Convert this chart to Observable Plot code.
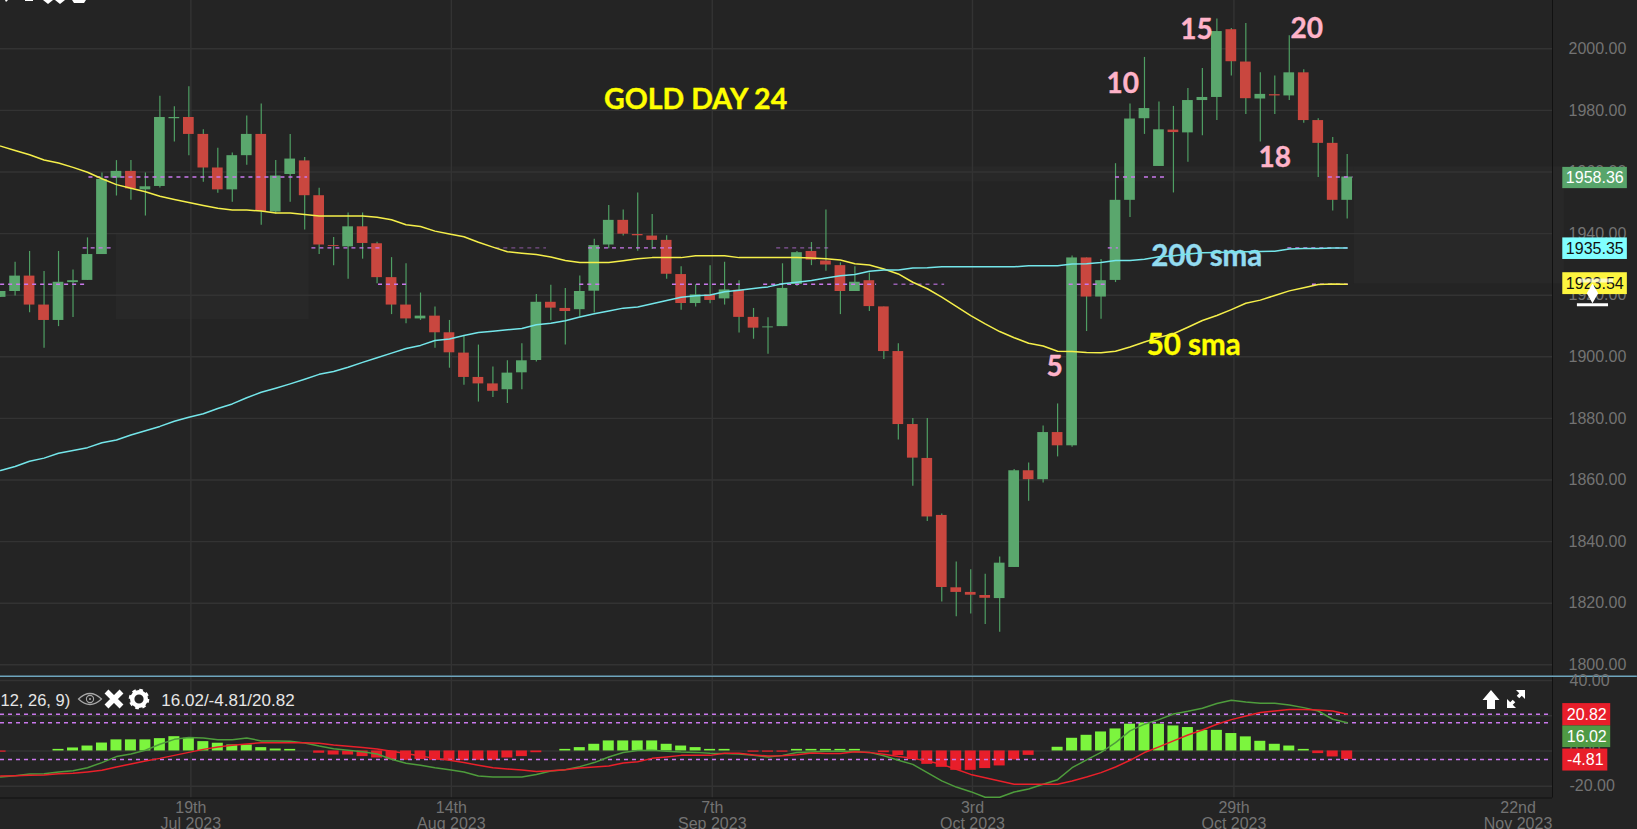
<!DOCTYPE html>
<html>
<head>
<meta charset="utf-8">
<script src="https://cdn.jsdelivr.net/npm/d3@7"></script>
<script src="https://cdn.jsdelivr.net/npm/@observablehq/plot@0.6"></script>
<style>
html,body{margin:0;padding:0;background:#242424;overflow:hidden}
svg{display:block}
</style>
</head>
<body>
<div id="chart"></div>
<script>
// Daily candles, bar numbers start at -1 (the partly hidden first bar)
const opens = [1919.3,
1921.2,1926.2,1916.8,1911.8,1924.1,1924.8,1933.2,1958.0,1960.2,1954.2,
1955.3,1977.3,1977.7,1972.2,1961.3,1954.2,1965.3,1972.2,1947.0,1959.2,
1963.6,1952.3,1936.1,1935.7,1942.2,1936.7,1925.7,1916.8,1912.3,1913.2,
1907.8,1901.2,1893.3,1891.2,1889.3,1894.8,1898.8,1917.7,1915.7,1915.3,
1921.3,1936.3,1944.3,1939.7,1939.2,1937.8,1926.7,1917.3,1920.1,1918.8,
1921.6,1912.8,1909.4,1909.8,1923.5,1934.2,1931.1,1929.6,1921.2,1924.7,
1916.2,1901.7,1878.0,1867.0,1848.5,1825.0,1823.5,1822.5,1821.5,1831.6,
1863.0,1860.1,1875.4,1871.1,1932.1,1919.4,1924.8,1950.8,1977.3,1961.8,
1973.6,1972.7,1983.2,1984.2,2006.2,1995.7,1983.7,1985.1,1984.7,1992.2,
1976.7,1969.3,1950.8];
const highs = [1921.2,
1930.7,1934.2,1927.7,1934.2,1928.2,1938.6,1959.7,1963.7,1963.7,1959.7,
1984.6,1981.2,1987.7,1973.7,1967.7,1966.2,1978.2,1982.1,1963.7,1972.2,
1964.7,1954.7,1938.7,1946.7,1946.7,1937.2,1932.2,1930.2,1920.7,1916.2,
1911.8,1906.9,1903.8,1896.7,1898.7,1904.2,1920.2,1923.2,1922.2,1926.2,
1938.2,1949.1,1947.7,1953.2,1946.2,1939.3,1929.2,1923.4,1929.6,1930.7,
1924.7,1915.7,1912.7,1930.2,1934.2,1937.1,1947.7,1930.5,1929.2,1927.2,
1916.2,1904.2,1880.0,1880.0,1849.0,1833.4,1830.9,1829.4,1835.0,1863.4,
1865.5,1877.5,1884.7,1932.7,1932.1,1931.6,1962.7,1982.1,1997.2,1982.7,
1981.3,1987.1,1993.6,2009.7,2006.6,2008.2,1992.2,1991.2,2004.2,1993.2,
1977.3,1971.2,1965.7];
const lows = [1919.3,
1919.7,1914.3,1902.8,1909.8,1912.8,1924.8,1933.2,1952.2,1950.8,1945.7,
1954.8,1969.7,1965.3,1956.7,1953.1,1950.2,1962.2,1942.7,1946.3,1950.2,
1941.2,1933.2,1929.6,1925.2,1931.7,1923.7,1913.7,1910.7,1911.8,1902.8,
1896.3,1890.8,1885.3,1886.8,1884.8,1889.3,1898.3,1911.7,1903.8,1912.9,
1914.2,1935.1,1939.2,1934.3,1934.8,1925.2,1915.1,1916.2,1917.2,1916.8,
1907.7,1905.7,1900.8,1909.8,1922.8,1929.6,1927.8,1913.7,1921.2,1914.7,
1899.1,1873.0,1858.0,1846.5,1820.4,1815.6,1816.5,1813.1,1810.6,1831.6,
1853.1,1859.0,1867.5,1870.6,1908.2,1912.2,1924.1,1945.2,1972.2,1961.8,
1953.2,1963.2,1971.8,1976.7,1991.2,1978.7,1969.7,1978.7,1983.2,1975.8,
1958.2,1947.3,1944.7];
const closes = [1921.2,
1926.2,1916.8,1911.8,1924.2,1924.7,1933.2,1957.6,1960.2,1954.5,1955.2,
1977.7,1977.7,1972.2,1961.3,1954.2,1965.3,1972.2,1947.2,1958.7,1964.2,
1952.3,1936.3,1935.8,1942.2,1936.8,1925.7,1916.8,1912.3,1913.2,1907.8,
1901.3,1893.3,1891.2,1888.8,1894.7,1898.7,1917.7,1915.8,1914.7,1921.2,
1936.1,1944.3,1939.8,1939.3,1937.8,1926.8,1917.3,1920.1,1918.3,1921.7,
1912.8,1909.3,1909.7,1922.2,1933.8,1931.4,1929.8,1921.2,1924.2,1916.3,
1901.7,1878.0,1867.1,1848.0,1825.1,1823.5,1822.6,1821.6,1833.0,1863.0,
1860.1,1875.4,1871.1,1932.1,1919.4,1924.7,1950.8,1977.2,1980.6,1973.7,
1972.8,1983.2,1984.2,2005.6,1995.8,1983.8,1985.2,1984.7,1992.2,1976.7,
1969.3,1950.8,1958.36];
const sma50 = [1968.4,
1967.0,1965.6,1963.9,1962.9,1961.5,1959.9,1957.8,1955.9,1954.7,1953.6,
1952.1,1951.1,1950.1,1949.1,1948.2,1947.7,1947.7,1947.3,1946.7,1946.7,
1946.2,1945.7,1945.7,1945.7,1945.7,1945.3,1944.5,1942.9,1942.3,1940.8,
1939.9,1939.0,1937.2,1935.6,1934.1,1933.6,1933.2,1932.4,1931.3,1930.6,
1930.6,1930.6,1931.2,1931.8,1932.2,1932.2,1932.2,1932.8,1932.8,1932.8,
1932.2,1932.2,1932.2,1932.2,1932.2,1932.1,1931.8,1931.4,1930.2,1929.8,
1928.5,1926.9,1924.2,1922.1,1919.4,1916.4,1913.4,1910.7,1908.2,1906.2,
1904.4,1903.5,1901.8,1901.7,1901.4,1901.3,1901.8,1903.2,1904.8,1906.3,
1907.5,1909.6,1911.8,1913.4,1915.3,1917.4,1918.4,1919.9,1921.4,1922.4,
1923.5,1923.6,1923.54];
const sma200 = [1863.1,
1864.4,1866.1,1867.1,1868.7,1869.6,1870.5,1872.1,1873.0,1874.6,1876.0,
1877.4,1879.1,1880.4,1881.5,1883.2,1884.7,1886.7,1888.5,1889.8,1891.2,
1892.7,1894.3,1895.2,1896.6,1898.2,1899.7,1901.2,1902.7,1903.7,1905.3,
1905.8,1906.9,1907.9,1908.3,1908.8,1909.2,1910.4,1910.9,1911.7,1912.9,
1914.0,1914.9,1915.8,1916.2,1917.2,1918.3,1919.3,1919.8,1920.1,1921.1,
1921.6,1922.2,1922.7,1923.7,1924.2,1924.8,1925.6,1926.3,1926.7,1927.8,
1928.2,1928.2,1928.8,1928.9,1929.2,1929.2,1929.2,1929.2,1929.2,1929.2,
1929.6,1929.6,1929.6,1930.1,1930.2,1930.6,1931.3,1931.3,1931.7,1932.5,
1932.8,1933.4,1933.8,1933.9,1934.0,1934.1,1934.2,1934.3,1935.0,1935.2,
1935.2,1935.3,1935.35];
const macd = [-14.8,
-14.0,-13.1,-12.9,-11.9,-11.2,-9.5,-6.6,-3.2,-1.7,0.4,
3.8,6.6,7.6,7.4,6.4,6.4,7.4,5.7,5.7,5.5,
4.5,2.8,1.3,0.4,-0.4,-1.7,-4.7,-7.0,-8.1,-9.5,
-10.6,-11.9,-14.2,-14.8,-14.8,-14.8,-13.3,-11.4,-10.6,-8.9,
-6.6,-3.4,-0.9,0.2,0.4,-0.2,-0.6,-0.8,-1.3,-1.5,
-1.7,-2.5,-3.4,-2.5,-0.9,-0.6,-0.2,0,-0.4,-0.8,
-2.7,-5.3,-7.6,-12.3,-17.0,-20.5,-23.1,-26.3,-26.3,-23.3,
-21.6,-18.9,-16.3,-9.5,-5.1,-0.8,4.7,11.4,15.2,17.8,
21.0,22.5,24.2,26.9,28.8,27.8,27.1,27.1,26.1,24.6,
22.7,18.0,16.02];
const signalLine = [-14.2,
-14.0,-13.8,-13.6,-12.9,-12.7,-11.9,-11.0,-9.1,-7.4,-5.7,
-4.2,-2.5,-0.8,0.9,2.3,3.2,4.0,4.7,4.7,4.7,
4.7,4.4,3.4,2.7,1.9,1.1,-0.2,-1.5,-2.8,-4.2,
-5.3,-6.6,-8.1,-9.5,-10.2,-10.8,-11.6,-11.2,-10.6,-9.7,
-9.1,-8.5,-6.8,-6.1,-4.2,-3.4,-2.5,-2.5,-2.5,-1.3,
-1.3,-2.3,-2.8,-2.7,-2.1,-1.1,-1.5,-1.5,-0.4,-0.8,
-1.9,-3.2,-4.2,-5.7,-7.6,-10.4,-13.3,-15.2,-17.0,-18.9,
-18.9,-18.9,-18.9,-17.0,-14.8,-12.3,-9.1,-5.3,-0.9,2.3,
5.7,9.1,11.9,15.2,17.8,19.9,21.8,22.7,23.5,23.5,
23.3,22.7,20.82];
const hist = [-0.7,
0,0,0,0.9,1.7,2.8,4.5,6.3,6.3,6.3,
7.0,8.1,7.2,5.3,4.4,3.4,3.4,1.9,1.1,0.9,
0,-1.3,-2.3,-2.3,-3.2,-4.0,-4.9,-5.3,-4.9,-5.3,
-5.3,-5.5,-5.3,-5.3,-4.0,-3.2,-1.0,0,0.9,1.9,
3.8,5.7,5.7,5.7,5.7,3.8,2.8,1.9,0.9,0.9,
0,-0.7,-0.7,-0.7,0.9,0.9,0.9,0.9,0.9,0,
-1.0,-2.6,-4.9,-7.6,-9.3,-11.0,-11.0,-10.0,-8.5,-5.1,
-2.5,0,2.1,7.2,8.9,10.8,12.5,15.2,15.9,15.2,
14.2,13.3,11.7,11.7,9.9,8.0,5.5,3.8,2.8,0.9,
-1.5,-3.4,-4.81];

const priceTicks = d3.range(1800, 2001, 20);
const macdTicks = [40, 20, 0, -20];
const dateTickBars = [12.14, 30.13, 48.15, 66.12, 84.18];
const dateTickLabels = ["19th\nJul 2023", "14th\nAug 2023", "7th\nSep 2023", "3rd\nOct 2023", "29th\nOct 2023"];
const lastDateBar = 103.8, lastDateLabel = "22nd\nNov 2023";

// dashed price levels and the bar ranges where they show
const levelSegments = [
  {y:1958.36,a:5.1,b:20.2},{y:1958.36,a:76,b:77.6},{y:1958.36,a:78,b:79.5},{y:1958.36,a:90.7,b:92.4},
  {y:1935.35,a:4.7,b:6.8},{y:1935.35,a:20.5,b:25.3},{y:1935.35,a:33.2,b:36.7,o:.5},{y:1935.35,a:39.6,b:45.5},
  {y:1935.35,a:52.6,b:56.2,o:.6},{y:1935.35,a:75.5,b:76.2},{y:1935.35,a:87.9,b:92.2},
  {y:1923.54,a:-1,b:4.8},{y:1923.54,a:25.1,b:27.1},{y:1923.54,a:39,b:40.5},{y:1923.54,a:45.4,b:50.1},
  {y:1923.54,a:51.7,b:59.5},{y:1923.54,a:60.7,b:64.2,o:.7},{y:1923.54,a:72.8,b:75.3},{y:1923.54,a:89.6,b:92.2}
];
const bands = [
  {x1:7,x2:20.3,y1:1940.2,y2:1912},
  {x1:20.3,x2:92.5,y1:1961.7,y2:1956.8},
  {x1:92.5,x2:107,y1:1961.7,y2:1923.7}
];
const notes = [
  {k:47.0,v:1983.5,t:"GOLD DAY 24",c:"#ffff00",s:28.5},
  {k:81.6,v:2006.2,t:"15",c:"#ffb3c9",s:28},
  {k:76.5,v:1988.4,t:"10",c:"#ffb3c9",s:28},
  {k:89.2,v:2006.3,t:"20",c:"#ffb3c9",s:28},
  {k:87.0,v:1964.4,t:"18",c:"#ffb3c9",s:28},
  {k:71.8,v:1896.6,t:"5",c:"#ffb3c9",s:28},
  {k:82.3,v:1932.7,t:"200 sma",c:"#93dbf0",s:29.5},
  {k:81.4,v:1903.7,t:"50 sma",c:"#ffff00",s:29.5}
];
const priceTags = [
  {t:"1958.36",top:1961.5,bot:1954.6,fill:"#58a56b",ink:"#ffffff"},
  {t:"1935.35",top:1938.6,bot:1931.6,fill:"#80ffff",ink:"#111111"},
  {t:"1923.54",top:1927.3,bot:1920.2,fill:"#fdf53f",ink:"#111111"}
];
const macdLevels = [20.82, 16.02, -4.81];
const macdTags = [
  {t:"20.82",top:26.9,bot:14.2,x2:110.2,fill:"#e81e2a"},
  {t:"-4.81",top:1.1,bot:-11.4,x2:110.0,fill:"#e81e2a"},
  {t:"16.02",top:14.2,bot:1.9,x2:110.2,fill:"#4f9a44"}
];
const macdParams = "12, 26, 9)", macdValues = "16.02/-4.81/20.82";

for (const a of [highs,lows,closes,sma50,sma200,macd,signalLine,hist])
  if (a.length !== opens.length) throw new Error("length " + a.length + " vs " + opens.length);

const bars = opens.map((o,i)=>({k:i-1,o,h:highs[i],l:lows[i],c:closes[i],s50:sma50[i],s200:sma200[i],m:macd[i],sg:signalLine[i],hi:hist[i]}));
const lineBg = "#333333", axisInk = "#737373", FONT = "Liberation Sans", ANN = "Lato";
const UP = "#5aa76d", DOWN = "#c9473f", WICK = "#4f9e63", DASH = "#c978ec";
const halfBody = 0.37, leftEdge = -1.008, plotEdge = 106.18, rightEdge = 112.04;

function topShapes(){
  const g = d3.create("svg:g").attr("fill","#ffffff");
  g.html(`<polygon points="5,0 8,0 6,2"/><rect x="25" y="0" width="8" height="1"/>
  <polygon points="43,0 53,0 48,4"/><polygon points="55,0 65,0 60,4"/><polygon points="72,0 86,0 84,3 74,3"/>`);
  return g.node();
}
function macdIcons(){
  const g = d3.create("svg:g");
  g.html(`<path d="M78.5 24 Q90 13 101.5 24 Q90 35 78.5 24Z" fill="none" stroke="#a8a8a8" stroke-width="1.2"/>
  <circle cx="90" cy="24" r="3.6" fill="none" stroke="#a8a8a8" stroke-width="1.1"/><circle cx="90" cy="24" r="1" fill="#a8a8a8"/>
  <path d="M106.5 16.5L121.5 31.5M121.5 16.5L106.5 31.5" stroke="#fff" stroke-width="5.5"/>
  <circle cx="139" cy="24" r="6.8" fill="none" stroke="#fff" stroke-width="4.4"/>
  <circle cx="139" cy="24" r="9" fill="none" stroke="#fff" stroke-width="2.6" stroke-dasharray="3.6 3.47"/>
  <polygon fill="#fff" points="1491,15 1499.5,25 1495,25 1495,34 1487,34 1487,25 1482.5,25"/>
  <polygon fill="#fff" points="1525,15 1525,24 1516,15"/><polygon fill="#fff" points="1507,33 1507,24 1516,33"/>
  <path d="M1521.5 18.5L1518 22M1510.5 29.5L1514 26" stroke="#fff" stroke-width="3.6"/>`);
  return g.node();
}

const upperPlot = Plot.plot({
  width:1637, height:675, marginTop:0, marginLeft:0, marginRight:85, marginBottom:0,
  style:{background:"#242424", fontFamily:FONT, overflow:"visible"},
  x:{domain:[leftEdge,plotEdge], axis:null},
  y:{domain:[1800,2000], range:[664.3,48.3]},
  marks:[
    Plot.rect(bands,{x1:"x1",x2:"x2",y1:"y1",y2:"y2",fill:"#282828"}),
    Plot.ruleY(priceTicks,{x1:leftEdge,x2:plotEdge,stroke:lineBg,strokeWidth:1.4}),
    Plot.ruleX(dateTickBars,{y1:1796.5,y2:2016,stroke:lineBg,strokeWidth:1.4}),
    Plot.ruleX([plotEdge],{y1:1796.5,y2:2016,stroke:"#111111",strokeWidth:1}),
    Plot.axisY(priceTicks,{anchor:"right",tickSize:0,tickPadding:16,fontSize:16,fill:axisInk,label:null,tickFormat:d=>d.toFixed(2),fontVariant:"normal"}),
    Plot.ruleX(bars,{x:"k",y1:"l",y2:"h",stroke:WICK,strokeWidth:1.2}),
    Plot.rect(bars,{x1:d=>d.k-halfBody,x2:d=>d.k+halfBody,y1:"o",y2:"c",fill:d=>d.c>=d.o?UP:DOWN}),
    Plot.text(notes,{x:"k",y:"v",text:"t",fill:"c",stroke:"c",strokeWidth:0.4,fontFamily:ANN,fontWeight:700,fontSize:d=>d.s}),
    Plot.ruleY(levelSegments,{y:"y",x1:"a",x2:"b",stroke:DASH,strokeWidth:1.4,strokeDasharray:"4 4",strokeOpacity:d=>d.o??1}),
    Plot.line(bars,{x:"k",y:"s50",stroke:"#f5ef4a",strokeWidth:1.5}),
    Plot.line(bars,{x:"k",y:"s200",stroke:"#74e6ea",strokeWidth:1.5}),
    Plot.rect(priceTags,{x1:()=>106.89,x2:()=>111.35,y1:"bot",y2:"top",fill:"fill"}),
    Plot.text(priceTags,{x:()=>109.1,y:d=>(d.top+d.bot)/2,text:"t",fill:"ink",fontSize:16,fontVariant:"normal"}),
    Plot.ruleY([1924.8],{x1:107.97,x2:110.4,stroke:"#ffffff",strokeWidth:4,strokeOpacity:.65}),
    Plot.ruleY([1916.9],{x1:107.9,x2:110.05,stroke:"#ffffff",strokeWidth:3}),
    Plot.dot([1920.6],{x:()=>108.94,y:d=>d,symbol:"diamond",r:6,fill:"#ffffff"}),
    topShapes
  ]
});

const lowerPlot = Plot.plot({
  width:1637, height:154, marginTop:0, marginLeft:0, marginRight:85, marginBottom:0,
  style:{background:"#242424", fontFamily:FONT, overflow:"visible"},
  x:{domain:[leftEdge,plotEdge], axis:null},
  y:{domain:[-20,40], range:[110.7,5]},
  marks:[
    Plot.ruleY(macdTicks,{x1:leftEdge,x2:plotEdge,stroke:lineBg,strokeWidth:1.4}),
    Plot.ruleX(dateTickBars,{y1:-26.7,y2:42.4,stroke:lineBg,strokeWidth:1.4}),
    Plot.ruleX([plotEdge],{y1:-26.7,y2:42.4,stroke:"#111111",strokeWidth:1}),
    Plot.ruleY([-26.7],{x1:leftEdge,x2:plotEdge,stroke:"#111111",strokeWidth:1}),
    Plot.ruleY([42.44],{x1:leftEdge,x2:rightEdge,stroke:"#6ea5bd",strokeWidth:1.4}),
    Plot.axisY(macdTicks,{anchor:"right",tickSize:0,tickPadding:17,fontSize:16,fill:axisInk,label:null,tickFormat:d=>d.toFixed(2),fontVariant:"normal"}),
    Plot.text(dateTickBars.map((k,i)=>({k,t:dateTickLabels[i]})).concat([{k:lastDateBar,t:lastDateLabel}]),
      {x:"k",y:()=>-36.9,text:"t",fill:axisInk,fontSize:16,lineHeight:1.02}),
    Plot.rect(bars,{x1:d=>d.k-0.38,x2:d=>d.k+0.38,y1:()=>0,y2:"hi",fill:d=>d.hi>=0?"#7cf53e":"#e81e2a"}),
    Plot.ruleY(macdLevels,{x1:leftEdge,x2:plotEdge,stroke:DASH,strokeWidth:1.5,strokeDasharray:"4 4"}),
    Plot.line(bars,{x:"k",y:"m",stroke:"#4e9c3c",strokeWidth:1.5}),
    Plot.line(bars,{x:"k",y:"sg",stroke:"#e9202a",strokeWidth:1.5}),
    Plot.rect(macdTags,{x1:()=>106.89,x2:"x2",y1:"bot",y2:"top",fill:"fill"}),
    Plot.text(macdTags,{x:d=>(106.89+d.x2)/2,y:d=>(d.top+d.bot)/2,text:"t",fill:"#ffffff",fontSize:16,fontVariant:"normal"}),
    Plot.text([macdParams],{x:()=>leftEdge,y:()=>28.7,text:d=>d,textAnchor:"start",fill:"#e6e6e6",fontSize:16.5}),
    Plot.text([macdValues],{x:()=>10.1,y:()=>28.7,text:d=>d,textAnchor:"start",fill:"#e6e6e6",fontSize:17}),
    macdIcons
  ]
});
document.getElementById("chart").append(upperPlot, lowerPlot);
</script>
</body>
</html>
